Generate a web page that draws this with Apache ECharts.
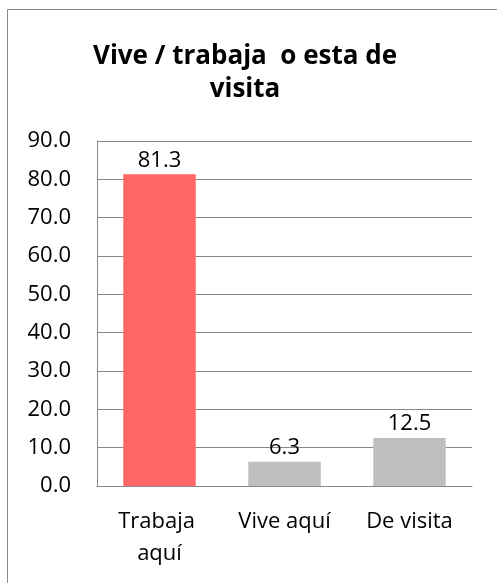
<!DOCTYPE html>
<html>
<head>
<meta charset="utf-8">
<script src="https://cdn.jsdelivr.net/npm/echarts@6/dist/echarts.min.js"></script>
<style>
  html, body { margin: 0; padding: 0; background: #fff; }
  #chart { width: 497px; height: 583px; }
</style>
</head>
<body>
<div id="chart"></div>
<script>
const categories = ["Trabaja aquí", "Vive aquí", "De visita"];
const values = [81.3, 6.3, 12.5];
const barColors = ["#ff6666", "#bfbfbf", "#bfbfbf"];

let myChart = echarts.init(document.getElementById("chart"));
let font = "Open Sans";
let option = {
  backgroundColor: "#fff",
  textStyle: { fontFamily: font },
  title: {
    text: "Vive / trabaja  o esta de\nvisita",
    left: 240,
    top: 35,
    textAlign: "center",
    textStyle: {
      fontFamily: font,
      fontWeight: "bold",
      fontSize: 26,
      lineHeight: 33,
      color: "#000",
    },
  },
  graphic: [
    {
      type: "rect",
      shape: { x: 7.5, y: 9.5, width: 520, height: 620 },
      style: { fill: "none", stroke: "#888", lineWidth: 1 },
      silent: true,
    },
  ],
  grid: {
    left: 97,
    right: 25,
    top: 141,
    bottom: 97,
  },
  xAxis: {
    type: "category",
    data: categories,
    axisTick: { show: false },
    axisLine: { lineStyle: { color: "#888", width: 1 } },
    axisLabel: {
      interval: 0,
      hideOverlap: false,
      color: "#000",
      fontSize: 22,
      lineHeight: 32,
      margin: 20,
      width: 112,
      overflow: "break",
    },
  },
  yAxis: {
    type: "value",
    min: 0,
    max: 90,
    interval: 10,
    axisLine: { show: true, lineStyle: { color: "#888", width: 1 } },
    axisTick: { show: false },
    splitLine: { lineStyle: { color: "#888", width: 1 } },
    axisLabel: {
      color: "#000",
      fontSize: 22,
      margin: 26,
      formatter: (v) => v.toFixed(1),
    },
  },
  series: [
    {
      type: "bar",
      barWidth: "58%",
      data: values.map((v, i) => ({ value: v, itemStyle: { color: barColors[i] } })),
      label: {
        show: true,
        position: "top",
        distance: 3,
        color: "#000",
        fontSize: 22,
        formatter: (p) => p.value.toFixed(1),
      },
    },
  ],
};
myChart.setOption(option);
</script>
</body>
</html>
